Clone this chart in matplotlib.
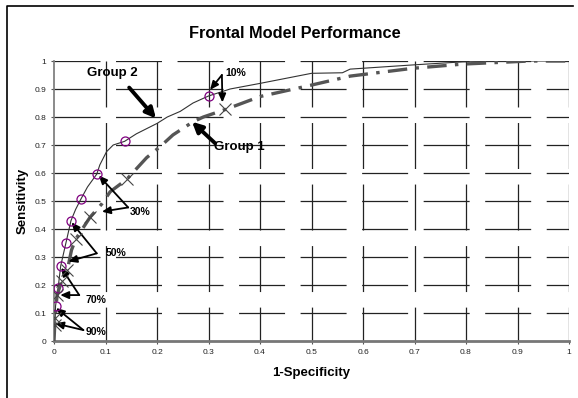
import numpy as np
import matplotlib
matplotlib.use('Agg')
import matplotlib.pyplot as plt
from matplotlib.lines import Line2D

plt.rcParams['font.family'] = ['Liberation Sans', 'DejaVu Sans']
plt.rcParams['lines.scale_dashes'] = False

# ROC curve, group 2 (thin solid)
g2_x = [0, 0.002, 0.003, 0.008, 0.013, 0.023, 0.033, 0.042, 0.052, 0.065, 0.083, 0.089,
        0.102, 0.115, 0.137, 0.16, 0.2, 0.22, 0.245, 0.27, 0.3, 0.342, 0.4, 0.45, 0.5,
        0.56, 0.575, 0.697, 0.794, 0.9, 1.0]
g2_y = [0, 0.06, 0.125, 0.19, 0.268, 0.349, 0.43, 0.47, 0.506, 0.55, 0.596, 0.629,
        0.676, 0.70, 0.713, 0.74, 0.777, 0.80, 0.82, 0.85, 0.875, 0.9, 0.92, 0.938, 0.956,
        0.958, 0.971, 0.986, 0.997, 1.0, 1.0]

# ROC curve, group 1 (heavy dash-dot)
g1_x = [0, 0.002, 0.006, 0.015, 0.026, 0.034, 0.042, 0.055, 0.07, 0.093, 0.109, 0.141,
        0.18, 0.206, 0.231, 0.27, 0.29, 0.333, 0.4, 0.5, 0.575, 0.697, 0.794, 0.924, 1.0]
g1_y = [0, 0.081, 0.164, 0.215, 0.254, 0.325, 0.363, 0.40, 0.442, 0.49, 0.533, 0.577,
        0.655, 0.694, 0.736, 0.783, 0.80, 0.827, 0.873, 0.914, 0.946, 0.974, 0.989, 1.0, 1.0]

# threshold operating points (90% ... 10%)
g2_pts_x = [0.003, 0.008, 0.013, 0.023, 0.033, 0.052, 0.083, 0.137, 0.30]
g2_pts_y = [0.125, 0.19, 0.268, 0.349, 0.43, 0.506, 0.596, 0.713, 0.875]
g1_pts_x = [0.002, 0.002, 0.006, 0.015, 0.026, 0.042, 0.07, 0.141, 0.333]
g1_pts_y = [0.057, 0.081, 0.164, 0.215, 0.254, 0.363, 0.442, 0.577, 0.827]

ticks = [0, 0.1, 0.2, 0.3, 0.4, 0.5, 0.6, 0.7, 0.8, 0.9, 1]
tick_labels = ['0', '0.1', '0.2', '0.3', '0.4', '0.5', '0.6', '0.7', '0.8', '0.9', '1']

fig = plt.figure(figsize=(5.78, 3.98), dpi=100)
ax = fig.add_axes([54 / 578, 57 / 398, 515 / 578, 280 / 398])

# dashed grid, dashes start from top / left
dash = (33.1, 11.2)
for t in ticks[1:]:
    ax.plot([0, 1], [t, t], color='#222222', lw=0.9, dashes=dash, zorder=1)
    ax.plot([t, t], [1, 0], color='#222222', lw=0.9, dashes=dash, zorder=1)

ax.plot(g2_x, g2_y, color='#333333', lw=0.8, zorder=3)
l1, = ax.plot(g1_x, g1_y, color='#555555', lw=2.4, zorder=3)
l1.set_dashes((14, 6, 2.5, 6))

ax.plot(g2_pts_x, g2_pts_y, 'o', mfc='none', mec='#800080', ms=6.5, mew=0.9, zorder=4)
ax.plot(g1_pts_x, g1_pts_y, 'x', color='#444444', ms=8, mew=0.8, zorder=4)

ax.set_xlim(0, 1)
ax.set_ylim(0, 1)
ax.set_xticks(ticks)
ax.set_xticklabels(tick_labels)
ax.set_yticks(ticks)
ax.set_yticklabels(tick_labels)
ax.tick_params(labelsize=6, length=2.5, width=0.8, color='#555555', labelcolor='#222222', pad=3)
for s in ['top', 'right']:
    ax.spines[s].set_visible(False)
ax.spines['left'].set_color('#777777')
ax.spines['left'].set_linewidth(1.2)
ax.spines['bottom'].set_color('#777777')
ax.spines['bottom'].set_linewidth(2)

ax.set_xlabel('1-Specificity', fontsize=9.5, fontweight='bold', labelpad=8)
ax.set_ylabel('Sensitivity', fontsize=9.5, fontweight='bold', labelpad=4)
fig.text(295 / 578, 1 - 33 / 398, 'Frontal Model Performance', ha='center', va='center',
         fontsize=11.8, fontweight='bold')

big = dict(arrowstyle='-|>,head_length=0.6,head_width=0.3', color='black', lw=2.8,
           shrinkA=0, shrinkB=0)
small = dict(arrowstyle='-|>,head_length=0.5,head_width=0.22', color='black', lw=1.3,
             shrinkA=0, shrinkB=0)

ax.text(0.113, 0.957, 'Group 2', fontsize=9.5, fontweight='bold', ha='center', va='center')
ax.annotate('', xy=(0.198, 0.795), xytext=(0.146, 0.905), arrowprops=big)
ax.text(0.359, 0.693, 'Group 1', fontsize=9.5, fontweight='bold', ha='center', va='center')
ax.annotate('', xy=(0.268, 0.783), xytext=(0.313, 0.706), arrowprops=big)

labels = [('10%', (0.332, 0.957), (0.326, 0.95), [(0.303, 0.897), (0.327, 0.852)]),
          ('30%', (0.148, 0.46), (0.144, 0.477), [(0.087, 0.591), (0.093, 0.462)]),
          ('50%', (0.101, 0.313), (0.083, 0.313), [(0.034, 0.424), (0.028, 0.284)]),
          ('70%', (0.062, 0.146), (0.049, 0.164), [(0.014, 0.262), (0.012, 0.164)]),
          ('90%', (0.062, 0.032), (0.057, 0.039), [(0.004, 0.118), (0.002, 0.063)])]
for txt, tpos, start, tips in labels:
    ax.text(tpos[0], tpos[1], txt, fontsize=7.5, fontweight='bold', ha='left', va='center')
    for tip in tips:
        ax.annotate('', xy=tip, xytext=start, arrowprops=small)

# partial frame around the chart
fig.add_artist(Line2D([6.5 / 578, 6.5 / 578, 573 / 578], [0, 1 - 5.5 / 398, 1 - 5.5 / 398],
                      transform=fig.transFigure, color='black', lw=1.2))

fig.savefig('out.png', dpi=100)
